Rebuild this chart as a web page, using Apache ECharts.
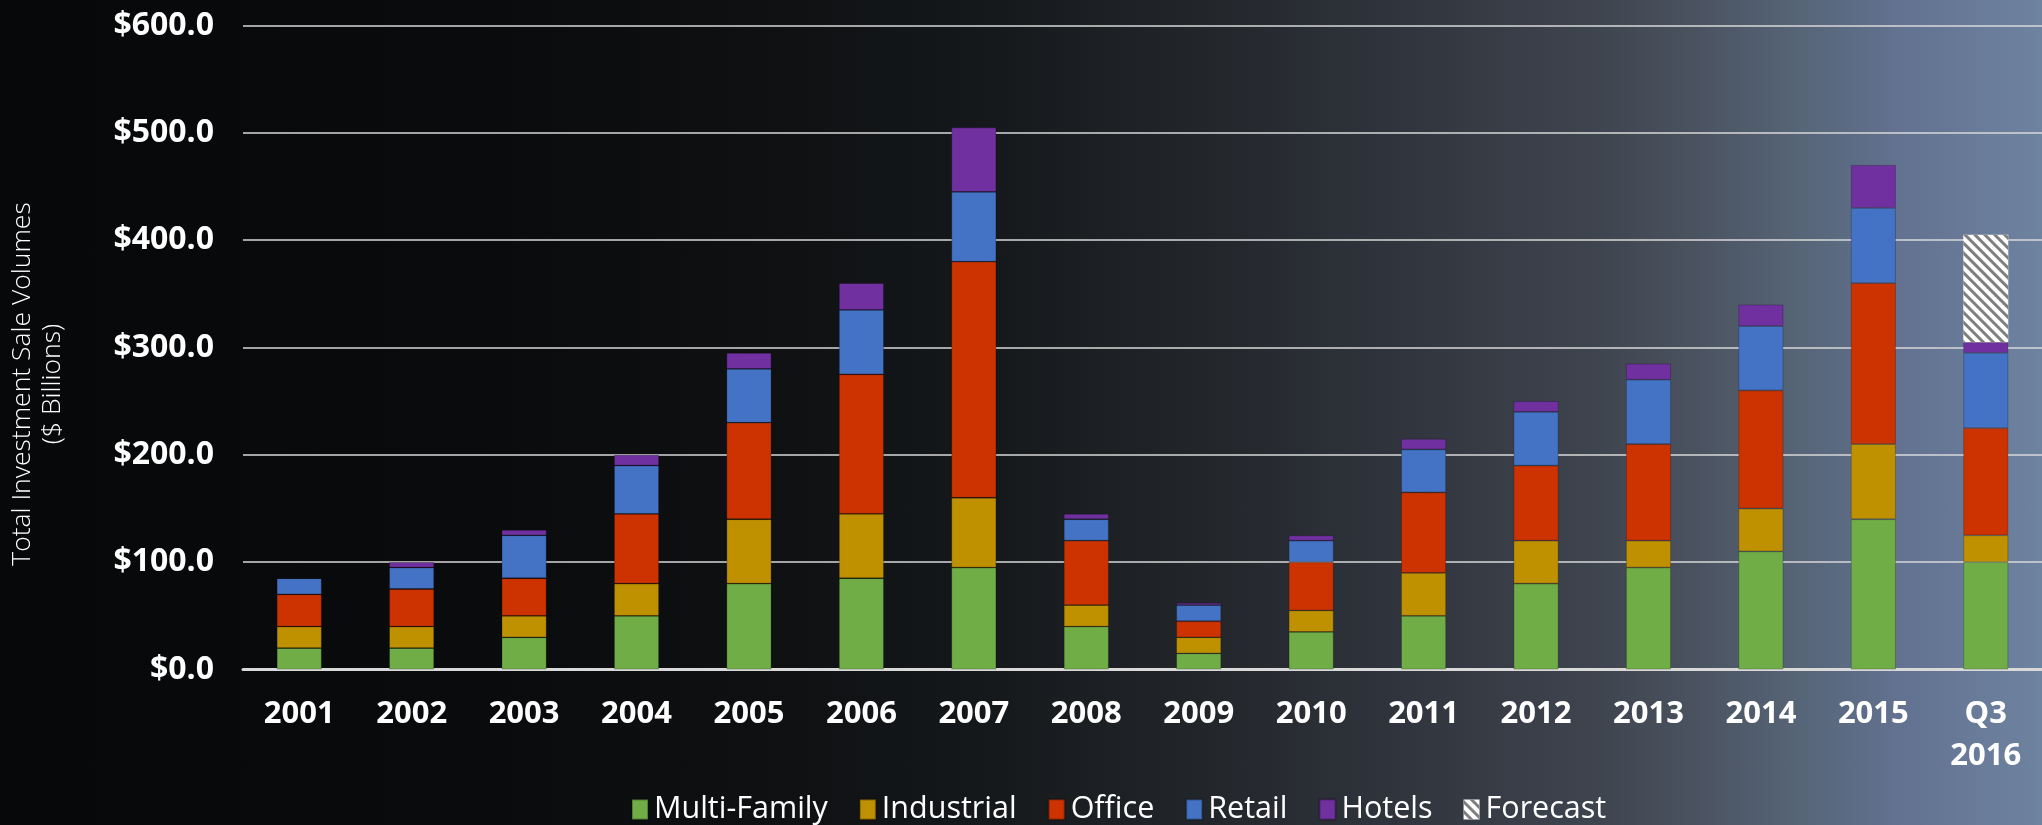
<!DOCTYPE html>
<html>
<head>
<meta charset="utf-8">
<script src="https://cdn.jsdelivr.net/npm/echarts@6/dist/echarts.min.js"></script>
<style>
  html, body { margin: 0; padding: 0; }
  body {
    width: 2042px; height: 825px; overflow: hidden;
    background: linear-gradient(to right,
      #070809 0px, #0a0b0d 500px, #0f1113 800px, #16191c 1000px,
      #22262a 1200px, #30343d 1400px, #3f454f 1600px, #4b5361 1700px,
      #566577 1800px, #627290 1900px, #6e83a0 2042px);
  }
  #chart { width: 2042px; height: 825px; }
</style>
</head>
<body>
<div id="chart"></div>
<script>
// Annual investment sale volumes by property type ($ billions)
const categories = ['2001','2002','2003','2004','2005','2006','2007','2008',
                    '2009','2010','2011','2012','2013','2014','2015','Q3\n2016'];
const multiFamily = [20, 20, 30, 50, 80, 85, 95, 40, 15, 35, 50, 80, 95, 110, 140, 100];
const industrial  = [20, 20, 20, 30, 60, 60, 65, 20, 15, 20, 40, 40, 25, 40, 70, 25];
const office      = [30, 35, 35, 65, 90, 130, 220, 60, 15, 45, 75, 70, 90, 110, 150, 100];
const retail      = [15, 20, 40, 45, 50, 60, 65, 20, 15, 20, 40, 50, 60, 60, 70, 70];
const hotels      = [0, 5, 5, 10, 15, 25, 60, 5, 2, 5, 10, 10, 15, 20, 40, 10];
const forecast    = ['-','-','-','-','-','-','-','-','-','-','-','-','-','-','-', 100];
const yTicks = { min: 0, max: 600, interval: 100 };

const chart = echarts.init(document.getElementById('chart'), null, { renderer: 'canvas' });

function barSeries(name, data, color) {
  return {
    name, type: 'bar', stack: 'total', data, barWidth: 45,
    itemStyle: { color, borderColor: 'rgba(0,0,0,0.28)', borderWidth: 0.8 }
  };
}

chart.setOption({
  backgroundColor: 'transparent',
  animation: false,
  grid: { left: 243, right: 0, top: 25.5, bottom: 155.5, containLabel: false },
  legend: {
    left: 626, top: 789,
    itemWidth: 16, itemHeight: 20, itemGap: 31,
    icon: 'rect',
    textStyle: { color: '#ffffff', fontFamily: 'Open Sans', fontSize: 30.5, padding: [0, 0, 0, 1] },
    data: ['Multi-Family', 'Industrial', 'Office', 'Retail', 'Hotels', 'Forecast']
  },
  xAxis: {
    type: 'category', data: categories,
    axisLine: { lineStyle: { color: '#d9d9d9', width: 3 } },
    axisTick: { show: false },
    axisLabel: {
      color: '#ffffff', fontFamily: 'Open Sans', fontWeight: 'bold', fontSize: 31,
      lineHeight: 42, margin: 24, interval: 0
    }
  },
  yAxis: {
    type: 'value', min: yTicks.min, max: yTicks.max, interval: yTicks.interval,
    axisLine: { show: false }, axisTick: { show: false },
    splitLine: { lineStyle: { color: '#d9d9d9', width: 1.5 } },
    axisLabel: {
      color: '#ffffff', fontFamily: 'Open Sans', fontWeight: 'bold', fontSize: 32, margin: 29,
      formatter: v => '$' + v.toFixed(1)
    }
  },
  graphic: [{
    type: 'text', x: 37, y: 384, rotation: Math.PI / 2,
    style: {
      text: 'Total Investment Sale Volumes\n($ Billions)',
      fill: '#ffffff', fontFamily: 'Open Sans', fontWeight: 300, fontSize: 26.5, lineHeight: 30,
      align: 'center', verticalAlign: 'middle'
    }
  }],
  series: [
    barSeries('Multi-Family', multiFamily, '#70ad47'),
    barSeries('Industrial', industrial, '#bf9000'),
    barSeries('Office', office, '#cc3300'),
    barSeries('Retail', retail, '#4472c4'),
    barSeries('Hotels', hotels, '#7030a0'),
    {
      name: 'Forecast', type: 'bar', stack: 'total', data: forecast, barWidth: 45,
      itemStyle: {
        color: '#ffffff',
        decal: {
          symbol: 'rect', color: '#7f7f7f',
          dashArrayX: [1, 0], dashArrayY: [3, 4],
          rotation: Math.PI / 4
        }
      }
    }
  ]
});
</script>
</body>
</html>
